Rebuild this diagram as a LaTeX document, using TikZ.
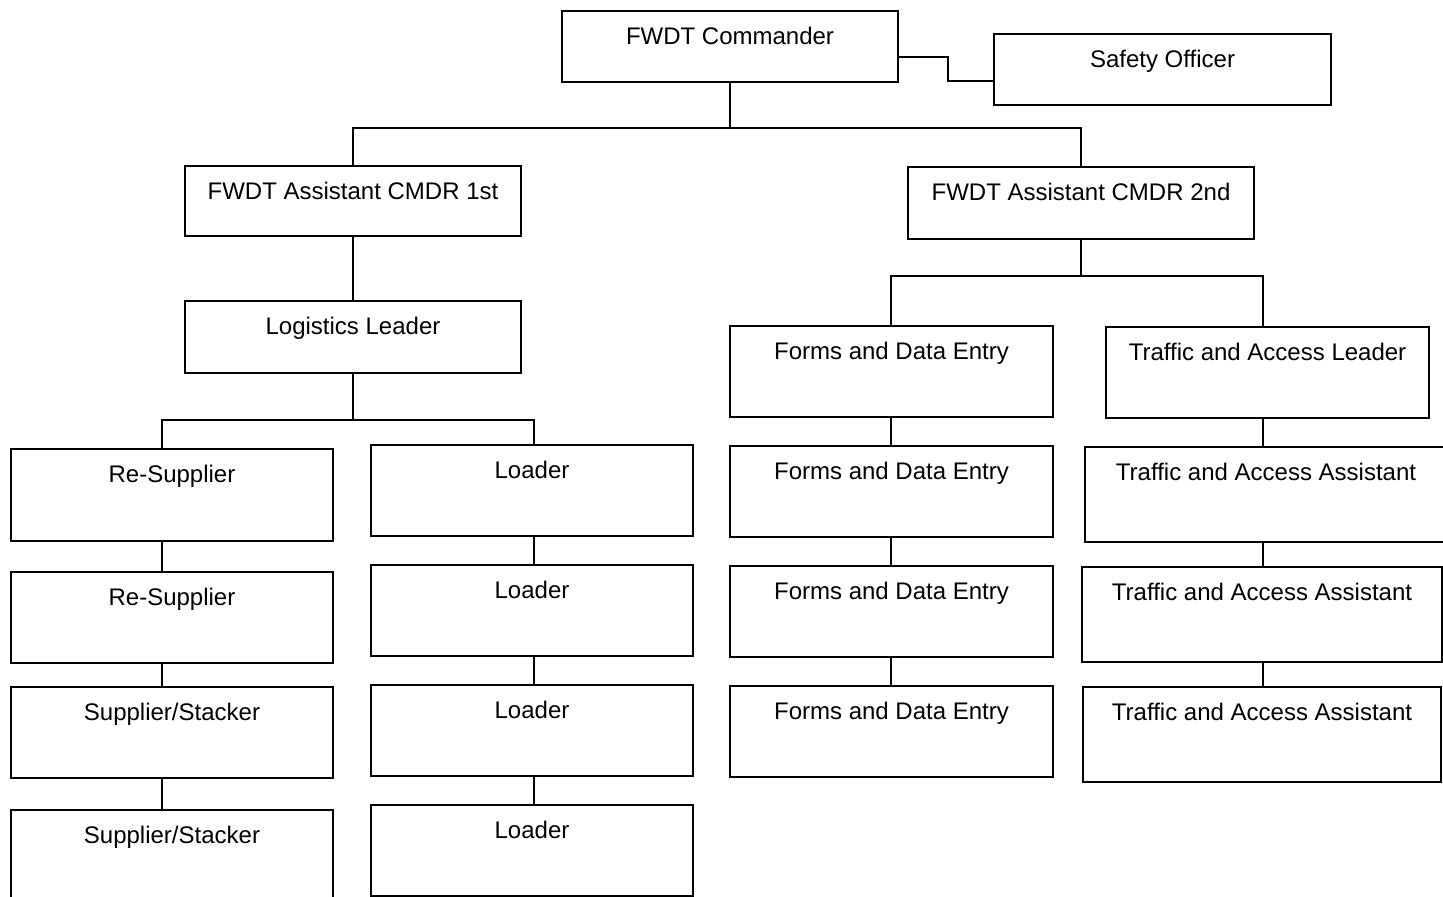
\documentclass[tikz,border=0pt]{standalone}
\usepackage{fontspec}
\setmainfont{Liberation Sans}
\usetikzlibrary{positioning}

\begin{document}
\begin{tikzpicture}[x=0.5pt, y=-0.5pt, line width=1pt]
  % Set the box style
  \tikzset{unitbox/.style={draw, rectangle, anchor=north west, inner xsep=0pt, inner ysep=0pt,
      text height=16.75pt, font=\fontsize{12}{14}\selectfont}}

  \useasboundingbox (0,0) rectangle (1443,897);
  \clip (0,0) rectangle (1443,897);

  % Draw the boxes (name/left/top/right/bottom/text)
  \foreach \name/\xa/\ya/\xb/\yb/\txt in {
    cmdr/561/10/897/81/FWDT Commander,
    safety/993/33/1330/104/Safety Officer,
    asstA/184/165/520/235/FWDT Assistant CMDR 1st,
    asstB/907/166/1253/238/FWDT Assistant CMDR 2nd,
    logi/184/300/520/372/Logistics Leader,
    resup1/10/448/332/540/Re-Supplier,
    resup2/10/571/332/662/Re-Supplier,
    stack1/10/686/332/777/{Supplier/Stacker},
    stack2/10/809/332/940/{Supplier/Stacker},
    load1/370/444/692/535/Loader,
    load2/370/564/692/655/Loader,
    load3/370/684/692/775/Loader,
    load4/370/804/692/895/Loader,
    forms1/729/325/1052/416/Forms and Data Entry,
    forms2/729/445/1052/536/Forms and Data Entry,
    forms3/729/565/1052/656/Forms and Data Entry,
    forms4/729/685/1052/776/Forms and Data Entry,
    traffic0/1105/326/1428/417/Traffic and Access Leader,
    traffic1/1084/446/1446/541/Traffic and Access Assistant,
    traffic2/1081/566/1441/661/Traffic and Access Assistant,
    traffic3/1082/686/1440/781/Traffic and Access Assistant}{
    \pgfmathsetmacro\boxw{(\xb-\xa)*0.5}
    \pgfmathsetmacro\boxd{(\yb-\ya)*0.5-16.75}
    \node[unitbox, minimum width=\boxw pt, text depth=\boxd pt] (\name) at (\xa,\ya) {\txt};
  }

  % Commander to safety officer
  \draw ([yshift=-5.25pt]cmdr.east) -- ++(49,0) |- ([yshift=-5.75pt]safety.west);

  % Commander to the assistants
  \coordinate (topbus) at (730,128);
  \draw (cmdr.south) -- (cmdr.south |- topbus);
  \draw (asstA.north) |- (topbus) -| (asstB.north);

  % Logistics branch
  \draw (asstA.south) -- (logi.north);
  \coordinate (logL) at (162,420);
  \coordinate (logR) at (534,420);
  \draw (logi.south) -- (logi.south |- logL);
  \draw (resup1.north -| logL) |- (logR) -- (logR |- load1.north);
  \foreach \a/\b in {resup1/resup2, resup2/stack1, stack1/stack2}
    \draw (\a.south -| logL) -- (\b.north -| logL);
  \foreach \a/\b in {load1/load2, load2/load3, load3/load4}
    \draw (\a.south -| logR) -- (\b.north -| logR);

  % Forms and traffic branch
  \coordinate (opsL) at (891,276);
  \coordinate (opsR) at (1263,276);
  \draw (asstB.south) -- (asstB.south |- opsL);
  \draw (forms1.north -| opsL) |- (opsR) -- (opsR |- traffic0.north);
  \foreach \a/\b in {forms1/forms2, forms2/forms3, forms3/forms4}
    \draw (\a.south -| opsL) -- (\b.north -| opsL);
  \foreach \a/\b in {traffic0/traffic1, traffic1/traffic2, traffic2/traffic3}
    \draw (\a.south -| opsR) -- (\b.north -| opsR);
\end{tikzpicture}
\end{document}
